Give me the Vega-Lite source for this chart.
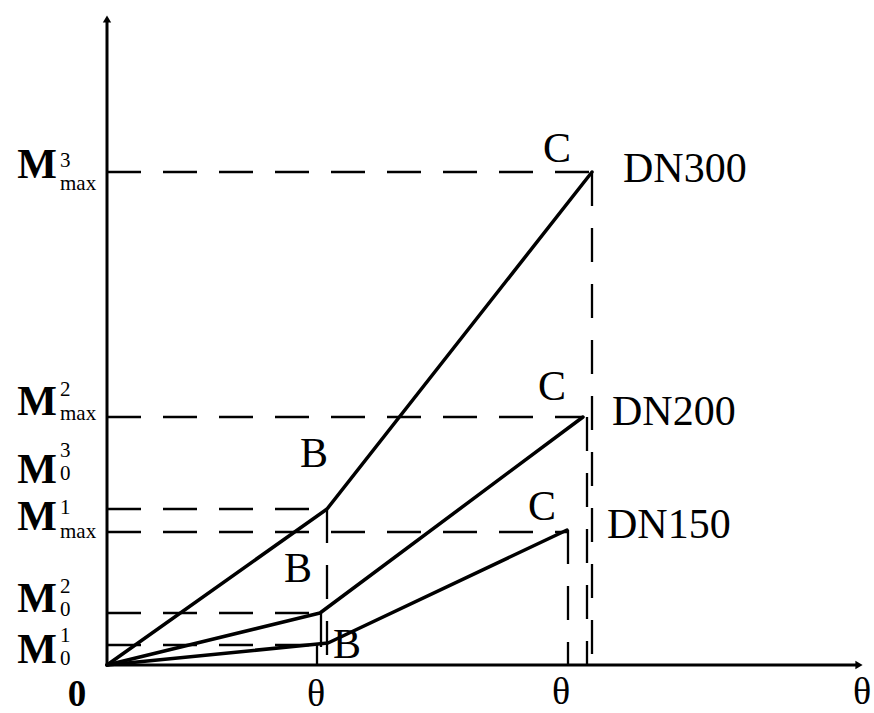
{
  "$schema": "https://vega.github.io/schema/vega-lite/v6.json",
  "width": 874,
  "height": 713,
  "autosize": {"type": "none"},
  "padding": 0,
  "background": "white",
  "config": {"view": {"stroke": null}, "font": "Liberation Serif"},
  "datasets": {
    "lines": [
      {"s": "DN300", "o": 0, "x": 0, "y": 0},
      {"s": "DN300", "o": 1, "x": 220, "y": 156},
      {"s": "DN300", "o": 2, "x": 485, "y": 493},
      {"s": "DN200", "o": 0, "x": 0, "y": 0},
      {"s": "DN200", "o": 1, "x": 213, "y": 52},
      {"s": "DN200", "o": 2, "x": 476, "y": 248},
      {"s": "DN150", "o": 0, "x": 0, "y": 0},
      {"s": "DN150", "o": 1, "x": 221, "y": 22},
      {"s": "DN150", "o": 2, "x": 460, "y": 135}
    ],
    "guides": [
      {"x": 0, "y": 493, "x2": 485, "y2": 493},
      {"x": 0, "y": 248, "x2": 476, "y2": 248},
      {"x": 0, "y": 156, "x2": 220, "y2": 156},
      {"x": 0, "y": 133, "x2": 460, "y2": 133},
      {"x": 0, "y": 52, "x2": 213, "y2": 52},
      {"x": 0, "y": 20, "x2": 210, "y2": 20},
      {"x": 485, "y": 493, "x2": 485, "y2": 0},
      {"x": 480, "y": 248, "x2": 480, "y2": 0},
      {"x": 461, "y": 135, "x2": 461, "y2": 0},
      {"x": 220, "y": 156, "x2": 220, "y2": 0},
      {"x": 214, "y": 52, "x2": 214, "y2": 0},
      {"x": 210, "y": 20, "x2": 210, "y2": 0}
    ],
    "axes": [
      {"x": 0, "y": 0, "x2": 752, "y2": 0},
      {"x": 0, "y": 0, "x2": 0, "y2": 646}
    ],
    "arrows": [
      {"x": 752, "y": 0, "dir": "right"},
      {"x": 0, "y": 646, "dir": "up"}
    ],
    "labels": [
      {"k": "M", "t": "M", "x": -50, "y": 487},
      {"k": "sup", "t": "3", "x": -47, "y": 498},
      {"k": "sub", "t": "max", "x": -47, "y": 475},
      {"k": "M", "t": "M", "x": -50, "y": 250},
      {"k": "sup", "t": "2", "x": -47, "y": 269},
      {"k": "sub", "t": "max", "x": -47, "y": 245},
      {"k": "M", "t": "M", "x": -50, "y": 182},
      {"k": "sup", "t": "3", "x": -47, "y": 208},
      {"k": "sub", "t": "0", "x": -47, "y": 185},
      {"k": "M", "t": "M", "x": -50, "y": 135},
      {"k": "sup", "t": "1", "x": -47, "y": 151},
      {"k": "sub", "t": "max", "x": -47, "y": 127},
      {"k": "M", "t": "M", "x": -50, "y": 53},
      {"k": "sup", "t": "2", "x": -47, "y": 72},
      {"k": "sub", "t": "0", "x": -47, "y": 49},
      {"k": "M", "t": "M", "x": -50, "y": 2},
      {"k": "sup", "t": "1", "x": -47, "y": 23},
      {"k": "sub", "t": "0", "x": -47, "y": 0},
      {"k": "zero", "t": "0", "x": -30, "y": -41},
      {"k": "theta", "t": "θ", "x": 209, "y": -41},
      {"k": "theta", "t": "θ", "x": 454, "y": -39},
      {"k": "theta", "t": "θ", "x": 755, "y": -39},
      {"k": "pt", "t": "B", "x": 207, "y": 198},
      {"k": "pt", "t": "B", "x": 191, "y": 83},
      {"k": "pt", "t": "B", "x": 240, "y": 7},
      {"k": "pt", "t": "C", "x": 450, "y": 503},
      {"k": "pt", "t": "C", "x": 445, "y": 265},
      {"k": "pt", "t": "C", "x": 435, "y": 145},
      {"k": "dn", "t": "DN300", "x": 516, "y": 483},
      {"k": "dn", "t": "DN200", "x": 505, "y": 240},
      {"k": "dn", "t": "DN150", "x": 500, "y": 127}
    ]
  },
  "encoding": {
    "x": {"field": "x", "type": "quantitative", "scale": {"domain": [-107, 767], "nice": false, "zero": false}, "axis": null},
    "y": {"field": "y", "type": "quantitative", "scale": {"domain": [-48, 665], "nice": false, "zero": false}, "axis": null}
  },
  "layer": [
    {
      "data": {"name": "guides"},
      "mark": {"type": "rule", "color": "black", "strokeWidth": 2.3, "strokeDash": [34, 22]},
      "encoding": {"x2": {"field": "x2"}, "y2": {"field": "y2"}}
    },
    {
      "data": {"name": "axes"},
      "mark": {"type": "rule", "color": "black", "strokeWidth": 3},
      "encoding": {"x2": {"field": "x2"}, "y2": {"field": "y2"}}
    },
    {
      "data": {"name": "arrows"},
      "mark": {"type": "point", "filled": true, "color": "black", "size": 70, "opacity": 1},
      "encoding": {
        "shape": {"field": "dir", "type": "nominal", "scale": {"domain": ["right", "up"], "range": ["triangle-right", "triangle-up"]}, "legend": null}
      }
    },
    {
      "data": {"name": "lines"},
      "mark": {"type": "line", "color": "black", "strokeJoin": "round", "strokeCap": "round"},
      "encoding": {
        "detail": {"field": "s", "type": "nominal"},
        "order": {"field": "o", "type": "quantitative"},
        "size": {"field": "s", "type": "nominal", "scale": {"domain": ["DN150", "DN200", "DN300"], "range": [3.5, 3.5, 4.5]}, "legend": null}
      }
    },
    {
      "data": {"name": "labels"},
      "transform": [{"filter": "datum.k === 'M'"}],
      "mark": {"type": "text", "align": "right", "baseline": "alphabetic", "fontSize": 42, "fontWeight": "bold", "color": "black"},
      "encoding": {"text": {"field": "t"}}
    },
    {
      "data": {"name": "labels"},
      "transform": [{"filter": "datum.k === 'sup' || datum.k === 'sub'"}],
      "mark": {"type": "text", "align": "left", "baseline": "alphabetic", "fontSize": 21, "color": "black"},
      "encoding": {"text": {"field": "t"}}
    },
    {
      "data": {"name": "labels"},
      "transform": [{"filter": "datum.k === 'zero'"}],
      "mark": {"type": "text", "align": "center", "baseline": "alphabetic", "fontSize": 37, "fontWeight": "bold", "color": "black"},
      "encoding": {"text": {"field": "t"}}
    },
    {
      "data": {"name": "labels"},
      "transform": [{"filter": "datum.k === 'theta'"}],
      "mark": {"type": "text", "align": "center", "baseline": "alphabetic", "fontSize": 38, "color": "black"},
      "encoding": {"text": {"field": "t"}}
    },
    {
      "data": {"name": "labels"},
      "transform": [{"filter": "datum.k === 'pt'"}],
      "mark": {"type": "text", "align": "center", "baseline": "alphabetic", "fontSize": 42, "color": "black"},
      "encoding": {"text": {"field": "t"}}
    },
    {
      "data": {"name": "labels"},
      "transform": [{"filter": "datum.k === 'dn'"}],
      "mark": {"type": "text", "align": "left", "baseline": "alphabetic", "fontSize": 42, "color": "black"},
      "encoding": {"text": {"field": "t"}}
    }
  ]
}
